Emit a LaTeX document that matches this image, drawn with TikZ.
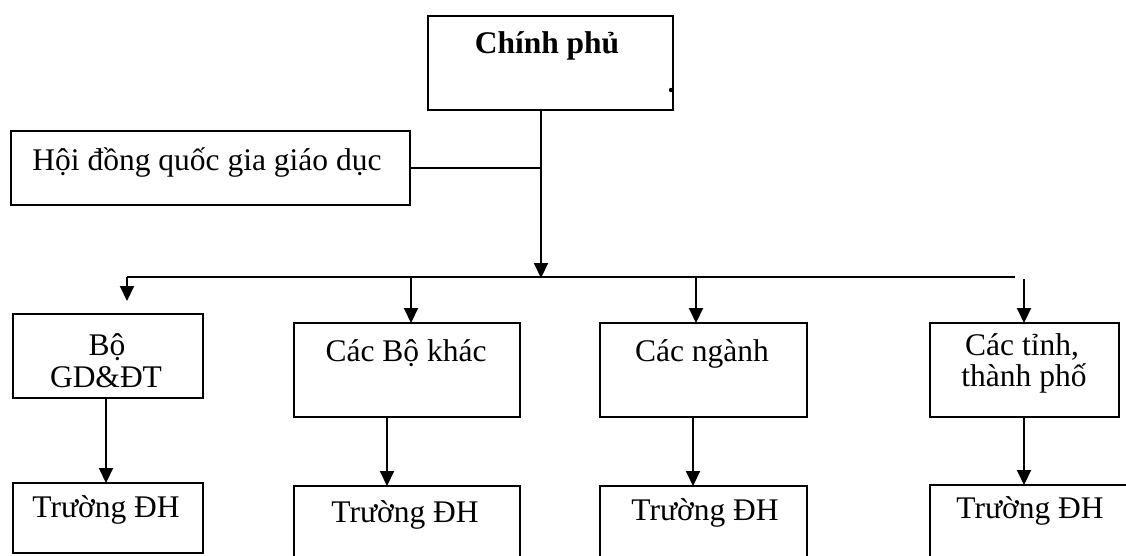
\documentclass[tikz,border=0pt]{standalone}
\usepackage{fontspec}
\setmainfont{Liberation Serif}
\usetikzlibrary{arrows.meta}
\tikzset{
  box/.style={draw, line width=2pt, inner sep=0pt, anchor=north west, rectangle},
  lbl/.style={anchor=base, inner sep=0pt, font=\fontsize{31.5}{34}\selectfont},
  link/.style={line width=2pt},
  arr/.style={line width=2pt, -{Triangle[width=14pt,length=15pt]}, shorten >=-1pt},
}
\begin{document}
\begin{tikzpicture}[x=1pt, y=-1pt]
\clip (0,0) rectangle (1126,555);
\fill[white] (0,0) rectangle (1126,555);

% top level
\node[box, minimum width=245pt, minimum height=94pt] (cp) at (427,15) {};
\node[lbl, font=\fontsize{31.5}{34}\selectfont\bfseries] (cpt) at (547,53) {Chính phủ};
\fill (671,90) circle (2.2pt);

\node[box, minimum width=399pt, minimum height=74pt] (hd) at (10,130) {};
\node[lbl] (hdt) at (207,170) {Hội đồng quốc gia giáo dục};

% second level
\node[box, minimum width=190pt, minimum height=84pt] (bo) at (12,313) {};
\node[lbl] (bot1) at (107,355) {Bộ};
\node[lbl] (bot2) at (106,387) {GD\&ĐT};

\node[box, minimum width=226pt, minimum height=94pt] (bk) at (293,322) {};
\node[lbl] (bkt) at (406,361) {Các Bộ khác};

\node[box, minimum width=207pt, minimum height=94pt] (ng) at (599,322) {};
\node[lbl] (ngt) at (702,361) {Các ngành};

\node[box, minimum width=189pt, minimum height=94pt] (tt) at (929,322) {};
\node[lbl] (ttt1) at (1022,355) {Các tỉnh,};
\node[lbl] (ttt2) at (1024,386) {thành phố};

% universities
\node[box, minimum width=190pt, minimum height=70pt] (t1) at (12,482) {};
\node[lbl] (t1t) at (106,517) {Trường ĐH};
\node[box, minimum width=226pt, minimum height=100pt] (t2) at (293,485) {};
\node[lbl] (t2t) at (405,522) {Trường ĐH};
\node[box, minimum width=207pt, minimum height=100pt] (t3) at (599,485) {};
\node[lbl] (t3t) at (705,520) {Trường ĐH};
\node[box, minimum width=260pt, minimum height=100pt] (t4) at (929,484) {};
\node[lbl] (t4t) at (1030,518) {Trường ĐH};

% connectors
\coordinate (j) at (541,277);
\coordinate (busL) at (127,277);
\coordinate (busR) at (1015,277);
\coordinate (a1) at (127,300);
\coordinate (a2) at (411,277);
\coordinate (a3) at (696,277);
\coordinate (a4) at (1024,279);

\draw[arr] (cp.south -| j) -- (j);
\draw[link] (hd.east) -- (hd.east -| j);
\draw[link] (busL) -- (busR);
\draw[arr] (busL) -- (a1);
\draw[arr] (a2) -- (a2 |- bk.north);
\draw[arr] (a3) -- (a3 |- ng.north);
\draw[arr] (a4) -- (a4 |- tt.north);

\draw[arr] (bo.south -| 106,0) -- (t1.north -| 106,0);
\draw[arr] (bk.south -| 387,0) -- (t2.north -| 387,0);
\draw[arr] (ng.south -| 693,0) -- (t3.north -| 693,0);
\draw[arr] (tt.south -| 1024,0) -- (t4.north -| 1024,0);
\end{tikzpicture}
\end{document}
